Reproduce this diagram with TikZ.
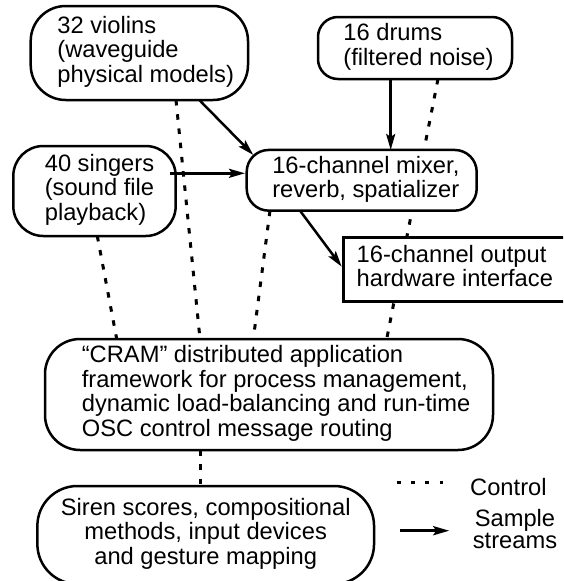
\documentclass[tikz,border=0pt]{standalone}
\usepackage{fontspec}
\setmainfont{Liberation Sans}
\usetikzlibrary{arrows.meta,calc,backgrounds}
\newcommand{\linesL}[1]{\begin{tabular}{@{}l@{}}#1\end{tabular}}
\newcommand{\linesC}[1]{\begin{tabular}{@{}c@{}}#1\end{tabular}}
\begin{document}
\begin{tikzpicture}[x=1pt,y=-1pt,
  font=\fontsize{23.7}{24}\selectfont,
  box/.style={draw, line width=2.5pt, fill=white, inner sep=0pt, outer sep=0pt},
  ctl/.style={line width=3pt, dash pattern=on 5.5pt off 8.8pt},
  flow/.style={line width=2.5pt, -{Stealth[length=16pt,width=9pt,inset=3pt]}},
  tshift/.style={execute at begin node={\hspace*{#1}}}]
\useasboundingbox (0,0) rectangle (563,581);
\clip (0,0) rectangle (563,581);

\node[box, rounded corners=35pt, minimum width=217.3pt, minimum height=94pt, tshift=12.7pt] (violins) at (139.35,53) {\linesL{32 violins\\(waveguide\\physical models)}};
\node[box, rounded corners=20pt, minimum width=194pt, minimum height=62pt, tshift=7pt] (drums) at (415,48) {\linesL{16 drums\\(filtered noise)}};
\node[box, rounded corners=30pt, minimum width=162.4pt, minimum height=90pt, tshift=10pt] (singers) at (94.5,191) {\linesL{40 singers\\(sound file\\playback)}};
\node[box, rounded corners=22pt, minimum width=230pt, minimum height=60.7pt, tshift=8.3pt] (mixer) at (361.7,180.3) {\linesL{16-channel mixer,\\reverb, spatializer}};
\node[box, anchor=west, inner xsep=13.4pt, minimum height=64pt] (output) at (343.3,269.7) {\linesL{16-channel output\\hardware interface}};
\node[box, rounded corners=35pt, minimum width=448pt, minimum height=111pt, tshift=14.3pt] (cram) at (269,394.5) {\linesL{“CRAM” distributed application\\framework for process management,\\dynamic load-balancing and run-time\\OSC control message routing}};
\node[box, rounded corners=40pt, minimum width=336.7pt, minimum height=98pt] (siren) at (205.7,535) {\linesC{Siren scores, compositional\\methods, input devices\\and gesture mapping}};

\begin{pgfonlayer}{background}
\draw[ctl] ($(violins.south)+(36.65,0)$) -- ($(cram.north)+(-69,0)$);
\draw[ctl] ($(singers.south)+(2.8,0)$) -- ($(cram.north)+(-152.3,0)$);
\draw[ctl] ($(mixer.south)+(-91.7,0)$) -- ($(cram.north)+(-15.7,0)$);
\draw[ctl] ($(drums.south)+(23,0)$) -- ($(cram.north)+(117.7,0)$);
\draw[ctl] ($(cram.south)+(-69,0)$) -- ($(siren.north)+(-5.7,0)$);
\end{pgfonlayer}

\draw[flow] ($(violins.south)+(59.95,0)$) -- ($(mixer.north west)+(6.6,5)$);
\draw[flow] ($(singers.east)+(-5.7,-17.7)$) -- ($(mixer.west)+(-1.7,-7)$);
\draw[flow] ($(drums.south)+(-24.3,0)$) -- ($(mixer.north)+(29,0)$);
\draw[flow] ($(mixer.south)+(-61.7,0)$) -- ($(output.west)+(-1.6,-3)$);

\coordinate (lc1) at (396.7,482.7);
\coordinate (lc2) at (443.3,482.7);
\draw[line width=3pt, dash pattern=on 4pt off 10.3pt] (lc1) -- (lc2);
\node[anchor=base west, inner sep=0pt] (lcontrol) at (470,495.8) {Control};
\coordinate (ls1) at (400,530.7);
\coordinate (ls2) at (449.3,530.7);
\draw[flow, line width=3pt] (ls1) -- (ls2);
\node[inner sep=0pt, font=\fontsize{23.7}{21.3}\selectfont] (lsample) at (515,532.4) {\linesC{Sample\\streams}};
\end{tikzpicture}
\end{document}
